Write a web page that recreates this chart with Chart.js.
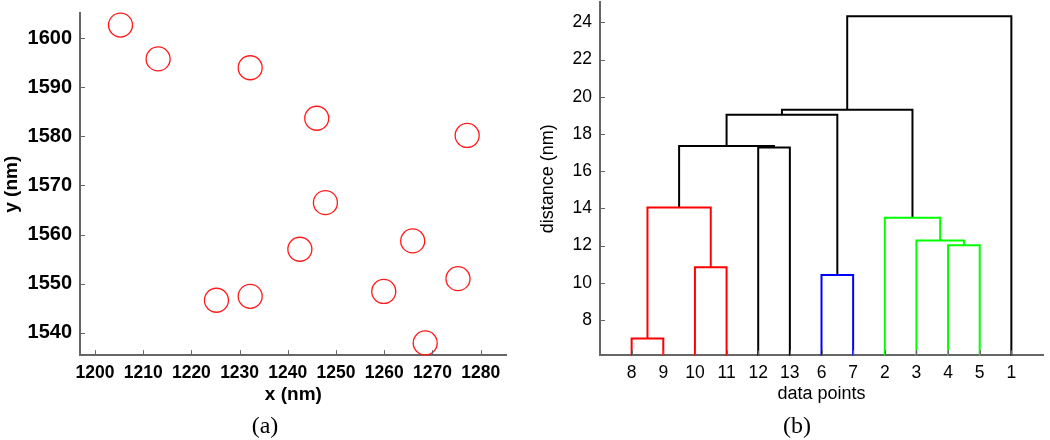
<!DOCTYPE html>
<html>
<head>
<meta charset="utf-8">
<script src="https://cdn.jsdelivr.net/npm/chart.js@4/dist/chart.umd.min.js"></script>
<style>
  body { margin: 0; background: #fff; }
  #wrap { position: relative; width: 1050px; height: 440px; }
  canvas { position: absolute; top: 0; }
  .cap { position: absolute; top: 412px; font-family: "Liberation Serif", serif; font-size: 24px; color: #000; transform: translateX(-50%); }
</style>
</head>
<body>
<div id="wrap">
  <canvas id="scatterChart" width="520" height="440" style="left:0"></canvas>
  <canvas id="dendroChart" width="530" height="440" style="left:520px"></canvas>
  <div class="cap" style="left:265px">(a)</div>
  <div class="cap" style="left:797px">(b)</div>
</div>
<script>
/* global Chart */

// (a) positions of the 13 points
let xs = [1205.3, 1213.1, 1232.2, 1246.0, 1277.2, 1247.8, 1242.5, 1265.9, 1275.3, 1259.9, 1225.2, 1232.2, 1268.5];
let ys = [1602.7, 1595.8, 1594.0, 1583.7, 1580.2, 1566.5, 1557.0, 1558.7, 1551.0, 1548.4, 1546.6, 1547.4, 1537.9];
let xTicksA = [1200, 1210, 1220, 1230, 1240, 1250, 1260, 1270, 1280];
let yTicksA = [1540, 1550, 1560, 1570, 1580, 1590, 1600];

// (b) dendrogram: leaf order and links (ids > 13 are earlier links)
let leafOrder = [8, 9, 10, 11, 12, 13, 6, 7, 2, 3, 4, 5, 1];
let linkA = [8, 6, 10, 4, 3, 2, 14, 12, 20, 22, 23, 24];
let linkB = [9, 7, 11, 5, 17, 18, 16, 13, 21, 15, 19, 1];
let linkHeight = [7.0, 10.42, 10.83, 12.02, 12.27, 13.5, 14.05, 17.28, 17.35, 19.04, 19.3, 24.34];
let linkColor = ["#ff0000", "#0000ff", "#ff0000", "#00ff00", "#00ff00", "#00ff00", "#ff0000",
  "#000000", "#000000", "#000000", "#000000", "#000000"];
let yTicksB = [8, 10, 12, 14, 16, 18, 20, 22, 24];

const axisGray = "#666666";

// matlab style ticks pointing into the plot
const innerTicks = {
  id: "innerTicks",
  afterDraw(chart) {
    const ctx = chart.ctx;
    const area = chart.chartArea;
    ctx.save();
    ctx.strokeStyle = axisGray;
    ctx.lineWidth = 1;
    chart.scales.x.ticks.forEach((t) => {
      const px = Math.round(chart.scales.x.getPixelForValue(t.value)) + 0.5;
      ctx.beginPath();
      ctx.moveTo(px, area.bottom);
      ctx.lineTo(px, area.bottom - 5);
      ctx.stroke();
    });
    chart.scales.y.ticks.forEach((t) => {
      const py = Math.round(chart.scales.y.getPixelForValue(t.value)) + 0.5;
      ctx.beginPath();
      ctx.moveTo(area.left, py);
      ctx.lineTo(area.left + 5, py);
      ctx.stroke();
    });
    ctx.restore();
  },
};

function setTicks(list) {
  return (scale) => {
    scale.ticks = list.map((v) => ({ value: v }));
  };
}

// no extra room for half labels, keep the plot box where layout.padding puts it
function fitX(scale) {
  scale.height -= 7;
  scale.paddingLeft = 0;
  scale.paddingRight = 0;
}
function fitY(scale) {
  scale.width = 80;
  scale.paddingTop = 0;
  scale.paddingBottom = 0;
}

// ---- (a) scatter ----
let points = xs.map((x, i) => ({ x: x, y: ys[i] }));

new Chart(document.getElementById("scatterChart"), {
  type: "scatter",
  data: {
    datasets: [
      {
        data: points,
        pointStyle: "circle",
        pointRadius: 12,
        pointHoverRadius: 12,
        backgroundColor: "rgba(0,0,0,0)",
        borderColor: "#ff1a1a",
        borderWidth: 1.3,
        clip: false,
      },
    ],
  },
  options: {
    responsive: false,
    animation: false,
    layout: { padding: { top: 13, right: 7, bottom: 34, left: 0 } },
    plugins: { legend: { display: false }, tooltip: { enabled: false } },
    scales: {
      x: {
        type: "linear",
        min: 1196.9,
        max: 1285.4,
        afterBuildTicks: setTicks(xTicksA),
        afterFit: fitX,
        grid: { display: false, drawTicks: false },
        border: { display: true, color: axisGray, width: 2 },
        ticks: {
          padding: 7,
          color: "#000",
          font: { family: "Liberation Sans", size: 17.5, weight: "bold" },
          callback: (v) => String(v),
        },
        title: {
          display: true,
          text: "x (nm)",
          color: "#000",
          padding: 0,
          font: { family: "Liberation Sans", size: 19, weight: "bold" },
        },
      },
      y: {
        type: "linear",
        min: 1535.4,
        max: 1605.1,
        afterBuildTicks: setTicks(yTicksA),
        afterFit: fitY,
        grid: { display: false, drawTicks: false },
        border: { display: true, color: axisGray, width: 2 },
        ticks: {
          padding: 8,
          color: "#000",
          font: { family: "Liberation Sans", size: 20, weight: "bold" },
          callback: (v) => String(v),
        },
        title: {
          display: true,
          text: "y (nm)",
          color: "#000",
          padding: 0,
          font: { family: "Liberation Sans", size: 19, weight: "bold" },
        },
      },
    },
  },
  plugins: [innerTicks],
});

// ---- (b) dendrogram ----
let nodeX = {};
let nodeY = {};
leafOrder.forEach((leaf, i) => {
  nodeX[leaf] = i + 1;
  nodeY[leaf] = 0;
});

let links = [];
linkHeight.forEach((h, k) => {
  let a = linkA[k];
  let b = linkB[k];
  let xa = nodeX[a];
  let xb = nodeX[b];
  links.push({
    data: [
      { x: xa, y: nodeY[a] },
      { x: xa, y: h },
      { x: xb, y: h },
      { x: xb, y: nodeY[b] },
    ],
    showLine: true,
    borderColor: linkColor[k],
    borderWidth: 2,
    pointRadius: 0,
    tension: 0,
  });
  nodeX[14 + k] = (xa + xb) / 2;
  nodeY[14 + k] = h;
});

new Chart(document.getElementById("dendroChart"), {
  type: "scatter",
  data: { datasets: links },
  options: {
    responsive: false,
    animation: false,
    layout: { padding: { top: 2, right: 7, bottom: 35, left: 0 } },
    plugins: { legend: { display: false }, tooltip: { enabled: false } },
    scales: {
      x: {
        type: "linear",
        min: 0,
        max: 14,
        afterBuildTicks: setTicks(leafOrder.map((_, i) => i + 1)),
        afterFit: fitX,
        grid: { display: false, drawTicks: false },
        border: { display: true, color: axisGray, width: 2 },
        ticks: {
          padding: 7,
          color: "#000",
          font: { family: "Liberation Sans", size: 17.5 },
          callback: (v) => String(leafOrder[v - 1]),
        },
        title: {
          display: true,
          text: "data points",
          color: "#000",
          padding: 0,
          font: { family: "Liberation Sans", size: 18 },
        },
      },
      y: {
        type: "linear",
        min: 6.09,
        max: 25.1,
        afterBuildTicks: setTicks(yTicksB),
        afterFit: fitY,
        grid: { display: false, drawTicks: false },
        border: { display: true, color: axisGray, width: 2 },
        ticks: {
          padding: 8,
          color: "#000",
          font: { family: "Liberation Sans", size: 17.5 },
        },
        title: {
          display: true,
          text: "distance (nm)",
          color: "#000",
          padding: { top: 17, bottom: 0 },
          font: { family: "Liberation Sans", size: 18 },
        },
      },
    },
  },
  plugins: [innerTicks],
});
</script>
</body>
</html>
